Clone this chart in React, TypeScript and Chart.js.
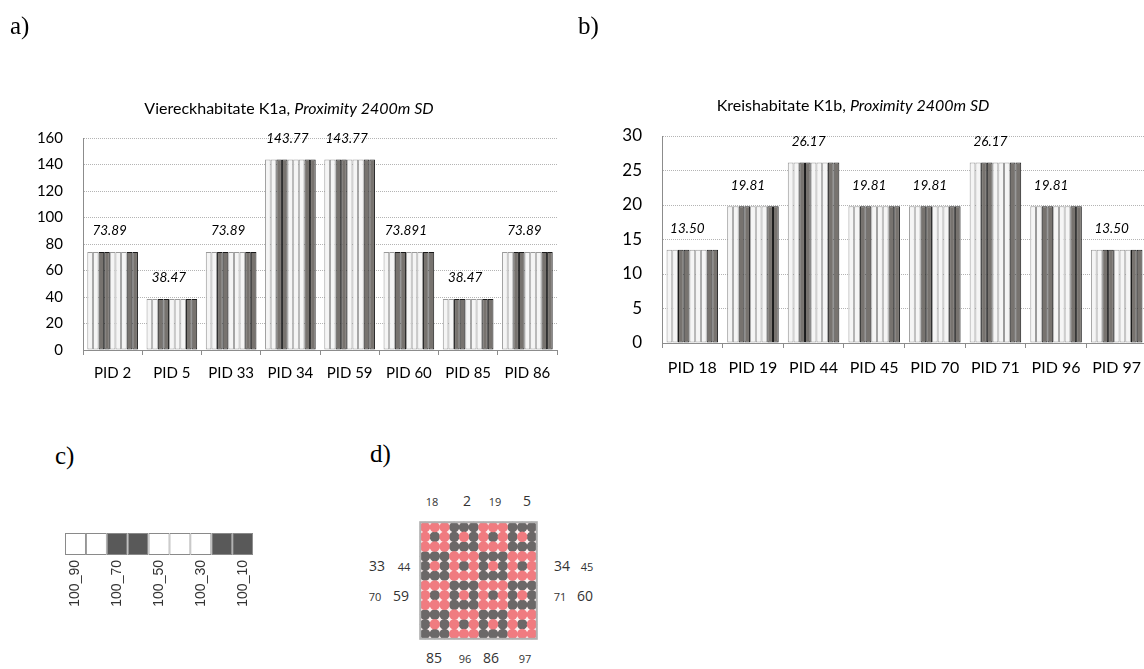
import React, { useEffect, useRef } from "react";
import { Chart, registerables } from "chart.js";
Chart.register(...registerables);

// ---------- data ----------
const seriesLabels = ["100_90", "", "100_70", "", "100_50", "", "100_30", "", "100_10"];
const seriesShade = ["light", "light", "dark", "dark", "light", "light", "light", "dark", "dark"];

const catsA = ["PID 2", "PID 5", "PID 33", "PID 34", "PID 59", "PID 60", "PID 85", "PID 86"];
const valsA = [73.89, 38.47, 73.89, 143.77, 143.77, 73.891, 38.47, 73.89];
const textA = ["73.89", "38.47", "73.89", "143.77", "143.77", "73.891", "38.47", "73.89"];

const catsB = ["PID 18", "PID 19", "PID 44", "PID 45", "PID 70", "PID 71", "PID 96", "PID 97"];
const valsB = [13.5, 19.81, 26.17, 19.81, 19.81, 26.17, 19.81, 13.5];
const textB = ["13.50", "19.81", "26.17", "19.81", "19.81", "26.17", "19.81", "13.50"];

const gridRows = [
  "PPPDDDPPPDDD",
  "PDPDPDPDPDPD",
  "PPPDDDPPPDDD",
  "DDDPPPDDDPPP",
  "DPDPDPDPDPDP",
  "DDDPPPDDDPPP",
  "PPPDDDPPPDDD",
  "PDPDPDPDPDPD",
  "PPPDDDPPPDDD",
  "DDDPPPDDDPPP",
  "DPDPDPDPDPDP",
  "DDDPPPDDDPPP",
];

// ---------- styles ----------
const LIGHT_FILL = "#f5f5f5";
const LIGHT_EDGE = "#9a9a9a";
const DARK_FILL = "#77736f";
const DARK_EDGE = "#1a1a1a";
const AXIS = "#8c8c8c";
const GRID = "#b4b4b4";
const PINK = "#f07b80";
const GREY_DOT = "#6b6868";

type BarCfg = {
  cats: string[];
  vals: number[];
  texts: string[];
  max: number;
  step: number;
  width: number;
  height: number;
  area: { left: number; right: number; top: number; bottom: number };
  yFont: number;
  yPad: number;
  xFont: number;
  xPad: number;
  catPct: number;
  titleA: string;
  titleB: string;
  titleX: number;
  titleY: number;
  labelDx: number;
};

function makeBar(canvas: HTMLCanvasElement, c: BarCfg) {
  const titlePlugin = {
    id: "mixedTitle",
    afterDraw(chart: any) {
      const ctx = chart.ctx;
      ctx.save();
      ctx.fillStyle = "#000";
      ctx.textBaseline = "middle";
      const f1 = "16px Lato";
      const f2 = "italic 16px Lato";
      ctx.font = f1;
      const w1 = ctx.measureText(c.titleA).width;
      ctx.font = f2;
      const w2 = ctx.measureText(c.titleB).width;
      const x0 = c.titleX - (w1 + w2) / 2;
      ctx.font = f1;
      ctx.fillText(c.titleA, x0, c.titleY);
      ctx.font = f2;
      ctx.fillText(c.titleB, x0 + w1, c.titleY);
      ctx.restore();
    },
  };
  const labelPlugin = {
    id: "groupLabels",
    afterDatasetsDraw(chart: any) {
      const ctx = chart.ctx;
      const m0 = chart.getDatasetMeta(0);
      const m8 = chart.getDatasetMeta(seriesShade.length - 1);
      const ys = chart.scales.y;
      ctx.save();
      ctx.fillStyle = "#000";
      ctx.font = "italic 13.5px Lato";
      ctx.textAlign = "center";
      ctx.textBaseline = "middle";
      c.vals.forEach((v, i) => {
        const x = (m0.data[i].x + m8.data[i].x) / 2 + c.labelDx;
        const y = ys.getPixelForValue(v) - 21;
        ctx.fillText(c.texts[i], x, y);
      });
      ctx.restore();
    },
  };
  return new Chart(canvas, {
    type: "bar",
    data: {
      labels: c.cats,
      datasets: seriesShade.map((s, i) => ({
        label: seriesLabels[i] || "series " + (i + 1),
        data: c.vals,
        backgroundColor: s === "dark" ? DARK_FILL : LIGHT_FILL,
        borderColor: s === "dark" ? DARK_EDGE : LIGHT_EDGE,
        borderWidth: 1,
        borderSkipped: false,
        inflateAmount: 0,
        categoryPercentage: c.catPct,
        barPercentage: 1,
      })),
    },
    options: {
      responsive: false,
      animation: false,
      events: [],
      layout: {
        padding: {
          left: 0,
          top: c.area.top,
          right: c.width - c.area.right,
          bottom: 0,
        },
      },
      plugins: { legend: { display: false }, tooltip: { enabled: false }, title: { display: false } },
      scales: {
        x: {
          afterFit: (s: any) => {
            s.height = c.height - c.area.bottom;
          },
          grid: {
            display: true,
            drawOnChartArea: false,
            drawTicks: true,
            tickLength: 5,
            offset: true,
            color: AXIS,
            tickColor: AXIS,
          },
          border: { display: true, color: AXIS, width: 1 },
          ticks: {
            color: "#000",
            font: { family: "Lato", size: c.xFont },
            padding: c.xPad,
            maxRotation: 0,
            autoSkip: false,
          },
        },
        y: {
          min: 0,
          max: c.max,
          afterFit: (s: any) => {
            s.width = c.area.left;
          },
          grid: {
            color: GRID,
            drawTicks: false,
            borderDash: [1, 1],
          } as any,
          border: { display: true, color: AXIS, width: 1, dash: [1, 1] },
          ticks: {
            stepSize: c.step,
            color: "#000",
            font: { family: "Lato", size: c.yFont },
            padding: c.yPad,
          },
        },
      },
    } as any,
    plugins: [titlePlugin, labelPlugin],
  });
}

function BarPanel({ cfg, left, top }: { cfg: BarCfg; left: number; top: number }) {
  const ref = useRef<HTMLCanvasElement>(null);
  useEffect(() => {
    const ch = makeBar(ref.current!, cfg);
    return () => ch.destroy();
  }, []);
  return (
    <canvas
      ref={ref}
      width={cfg.width}
      height={cfg.height}
      style={{ position: "absolute", left, top, width: cfg.width, height: cfg.height }}
    />
  );
}

function LegendPanel() {
  const ref = useRef<HTMLCanvasElement>(null);
  useEffect(() => {
    const H = 100;
    const ch = new Chart(ref.current!, {
      type: "bar",
      data: {
        labels: seriesLabels,
        datasets: [
          {
            data: seriesShade.map(() => 1),
            backgroundColor: seriesShade.map((s) => (s === "dark" ? "#595959" : "#ffffff")),
            borderColor: "#8a8a8a",
            borderWidth: 1,
            borderSkipped: false,
            inflateAmount: 0,
            categoryPercentage: 1,
            barPercentage: 1,
          },
        ],
      },
      options: {
        responsive: false,
        animation: false,
        events: [],
        layout: { padding: { left: 10, right: 10, top: 8, bottom: 0 } },
        plugins: { legend: { display: false }, tooltip: { enabled: false } },
        scales: {
          x: {
            afterFit: (s: any) => {
              s.height = H - 30;
            },
            grid: { display: false, drawTicks: false },
            border: { display: false },
            ticks: {
              autoSkip: false,
              minRotation: 90,
              maxRotation: 90,
              padding: 5,
              color: "#333",
              font: { family: "Liberation Sans", size: 14 },
            },
          },
          y: { display: false, min: 0, max: 1 },
        },
      } as any,
    });
    return () => ch.destroy();
  }, []);
  return (
    <canvas ref={ref} width={210} height={100} style={{ position: "absolute", left: 55, top: 525, width: 210, height: 100 }} />
  );
}

function GridPanel() {
  const ref = useRef<HTMLCanvasElement>(null);
  useEffect(() => {
    const pts = (ch: string) => {
      const out: { x: number; y: number }[] = [];
      gridRows.forEach((row, r) =>
        row.split("").forEach((v, col) => {
          if (v === ch) out.push({ x: col, y: r });
        })
      );
      return out;
    };
    const bg = {
      id: "bgBox",
      beforeDatasetsDraw(chart: any) {
        const { ctx, chartArea: a } = chart;
        ctx.save();
        ctx.fillStyle = "#fdf1f1";
        ctx.fillRect(a.left, a.top, a.right - a.left, a.bottom - a.top);
        ctx.restore();
      },
      afterDraw(chart: any) {
        const { ctx, chartArea: a } = chart;
        ctx.save();
        ctx.strokeStyle = "#b0b0b0";
        ctx.lineWidth = 2;
        ctx.strokeRect(a.left, a.top, a.right - a.left, a.bottom - a.top);
        ctx.restore();
      },
    };
    const ch = new Chart(ref.current!, {
      type: "scatter",
      data: {
        datasets: [
          { data: pts("P"), pointRadius: 5.2, pointBackgroundColor: PINK, pointBorderWidth: 0, clip: false },
          { data: pts("D"), pointRadius: 5.2, pointBackgroundColor: GREY_DOT, pointBorderWidth: 0, clip: false },
        ],
      },
      options: {
        responsive: false,
        animation: false,
        events: [],
        layout: { padding: 2 },
        plugins: { legend: { display: false }, tooltip: { enabled: false } },
        scales: {
          x: { type: "linear", min: -0.5, max: 11.5, display: false },
          y: { type: "linear", min: -0.5, max: 11.5, reverse: true, display: false },
        },
      } as any,
      plugins: [bg],
    });
    return () => ch.destroy();
  }, []);
  return (
    <canvas ref={ref} width={127} height={127} style={{ position: "absolute", left: 415, top: 517, width: 127, height: 127 }} />
  );
}

const cfgA: BarCfg = {
  cats: catsA,
  vals: valsA,
  texts: textA,
  max: 160,
  step: 20,
  width: 575,
  height: 420,
  area: { left: 83, right: 557, top: 138, bottom: 350 },
  yFont: 15,
  yPad: 20,
  xFont: 15,
  xPad: 9,
  catPct: 0.855,
  titleA: "Viereckhabitate K1a, ",
  titleB: "Proximity 2400m SD",
  titleX: 289,
  titleY: 109,
  labelDx: -3,
};

const cfgB: BarCfg = {
  cats: catsB,
  vals: valsB,
  texts: textB,
  max: 30,
  step: 5,
  width: 600,
  height: 420,
  area: { left: 87, right: 572, top: 136, bottom: 343 },
  yFont: 17,
  yPad: 20,
  xFont: 16,
  xPad: 10,
  catPct: 0.85,
  titleA: "Kreishabitate K1b, ",
  titleB: "Proximity 2400m SD",
  titleX: 278,
  titleY: 106,
  labelDx: -5,
};

type Lab = { t: string; x: number; y: number; big: boolean };
const gridLabels: Lab[] = [
  { t: "18", x: 432, y: 501, big: false },
  { t: "2", x: 467, y: 501, big: true },
  { t: "19", x: 495, y: 501, big: false },
  { t: "5", x: 527, y: 501, big: true },
  { t: "33", x: 377, y: 566, big: true },
  { t: "44", x: 404, y: 566, big: false },
  { t: "70", x: 375, y: 596, big: false },
  { t: "59", x: 401, y: 596, big: true },
  { t: "34", x: 562, y: 566, big: true },
  { t: "45", x: 587, y: 566, big: false },
  { t: "71", x: 560, y: 596, big: false },
  { t: "60", x: 585, y: 596, big: true },
  { t: "85", x: 434, y: 658, big: true },
  { t: "96", x: 465, y: 658, big: false },
  { t: "86", x: 491, y: 658, big: true },
  { t: "97", x: 525, y: 658, big: false },
];

const panelLabels = [
  { t: "a)", x: 10, y: 25 },
  { t: "b)", x: 578, y: 25 },
  { t: "c)", x: 55, y: 455 },
  { t: "d)", x: 370, y: 453 },
];

export default function App() {
  return (
    <div
      style={{
        position: "absolute",
        left: 0,
        top: 0,
        width: 1144,
        height: 669,
        overflow: "hidden",
        background: "#fff",
      }}
    >
      <BarPanel cfg={cfgA} left={0} top={0} />
      <BarPanel cfg={cfgB} left={575} top={0} />
      <LegendPanel />
      <GridPanel />
      {panelLabels.map((p) => (
        <span
          key={p.t}
          style={{
            position: "absolute",
            left: p.x,
            top: p.y,
            transform: "translateY(-50%)",
            fontFamily: "Liberation Serif",
            fontSize: 25,
            lineHeight: 1,
            color: "#000",
            whiteSpace: "nowrap",
          }}
        >
          {p.t}
        </span>
      ))}
      {gridLabels.map((l) => (
        <span
          key={l.t}
          style={{
            position: "absolute",
            left: l.x,
            top: l.y,
            transform: "translate(-50%,-50%)",
            fontFamily: "Open Sans",
            fontSize: l.big ? 14 : 11,
            lineHeight: 1,
            color: "#333",
            whiteSpace: "nowrap",
          }}
        >
          {l.t}
        </span>
      ))}
    </div>
  );
}
